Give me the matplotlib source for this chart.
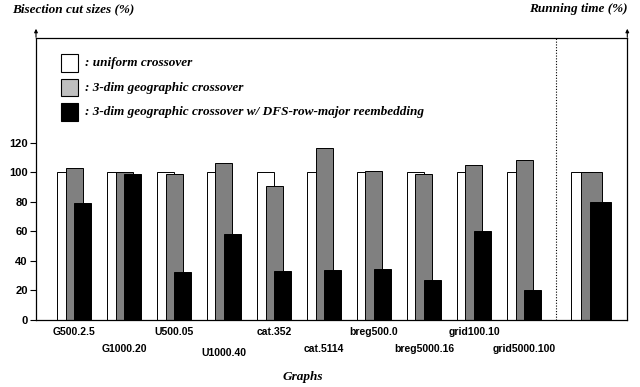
import matplotlib
matplotlib.use('Agg')
import matplotlib.pyplot as plt
import numpy as np

GRAPHS = ["G500.2.5", "G1000.20", "U500.05", "U1000.40", "cat.352",
          "cat.5114", "breg500.0", "breg5000.16", "grid100.10", "grid5000.100"]
UNIFORM = [100, 100, 100, 100, 100, 100, 100, 100, 100, 100]
GEO = [103, 100, 98.5, 106, 91, 116.5, 101, 99, 105, 108]
GEO_DFS = [79, 98.5, 32.5, 58.5, 33, 33.5, 34.5, 27, 60, 20.5]

RUN_UNIFORM = 100
RUN_GEO = 100
RUN_GEO_DFS = 80

LEGEND_LABELS = [": uniform crossover",
                 ": 3-dim geographic crossover",
                 ": 3-dim geographic crossover w/ DFS-row-major reembedding"]

SERIF = 'Liberation Serif'
SANS = 'Liberation Sans'

fig = plt.figure(figsize=(6.4, 3.87), dpi=100)
ax = fig.add_axes([36 / 640, 67 / 387, 591.3 / 640, 282 / 387])

x = np.arange(len(GRAPHS))
w = 0.34
step = 0.167
ekw = dict(edgecolor='black', linewidth=0.7)
ax.bar(x - step, UNIFORM, w, color='white', **ekw)
ax.bar(x, GEO, w, color='#808080', **ekw)
ax.bar(x + step, GEO_DFS, w, color='black', **ekw)

# running time group (wider bars)
rc = 10.345
rw = 0.426
rs = 0.19
ax.bar(rc - rs, RUN_UNIFORM, rw, color='white', **ekw)
ax.bar(rc, RUN_GEO, rw, color='#808080', **ekw)
ax.bar(rc + rs, RUN_GEO_DFS, rw, color='black', **ekw)

ax.axvline(9.64, color='black', linestyle=(0, (1, 1.5)), linewidth=0.8)

ax.set_xlim(-0.76, 11.066)
ax.set_ylim(0, 190.8)
ax.set_yticks([0, 20, 40, 60, 80, 100, 120])
ax.set_yticklabels(['0', '20', '40', '60', '80', '100', '120'],
                   fontfamily=SANS, fontweight='bold', fontsize=8)
ax.tick_params(axis='y', direction='out', length=4, width=0.8, pad=2)
ax.set_xticks([])
for s in ax.spines.values():
    s.set_linewidth(0.9)

# staggered x labels
for i, g in enumerate(GRAPHS):
    ypx = 332 if i % 2 == 0 else 349
    if g == "U1000.40":
        ypx = 353
    fig.text((74 + 50 * i) / 640, 1 - ypx / 387, g, ha='center', va='center',
             fontfamily=SANS, fontweight='bold', fontsize=7.5)

# axis arrows
for xp in (36, 627.3):
    fig.add_artist(matplotlib.patches.FancyArrowPatch(
        (xp / 640, 1 - 40 / 387), (xp / 640, 1 - 26 / 387),
        transform=fig.transFigure, arrowstyle='-|>', mutation_scale=5,
        color='black', linewidth=0.8))

tkw = dict(fontfamily=SERIF, fontweight='bold', fontstyle='italic', fontsize=9.5)
fig.text(12 / 640, 1 - 9 / 387, "Bisection cut sizes (%)", ha='left', va='center', **tkw)
fig.text(628 / 640, 1 - 9 / 387, "Running time (%)", ha='right', va='center', **tkw)
fig.text(303 / 640, 1 - 377 / 387, "Graphs", ha='center', va='center', **tkw)

# legend
box_colors = ['white', '#bfbfbf', 'black']
for k, (lab, c) in enumerate(zip(LEGEND_LABELS, box_colors)):
    yc = 63 + 24.5 * k
    fig.add_artist(matplotlib.patches.Rectangle(
        (61 / 640, 1 - (yc + 8.7) / 387), 17 / 640, 17.4 / 387,
        transform=fig.transFigure, facecolor=c, edgecolor='black', linewidth=0.8))
    fig.text(85 / 640, 1 - yc / 387, lab, ha='left', va='center', **tkw)

fig.savefig('out.png', dpi=100)
